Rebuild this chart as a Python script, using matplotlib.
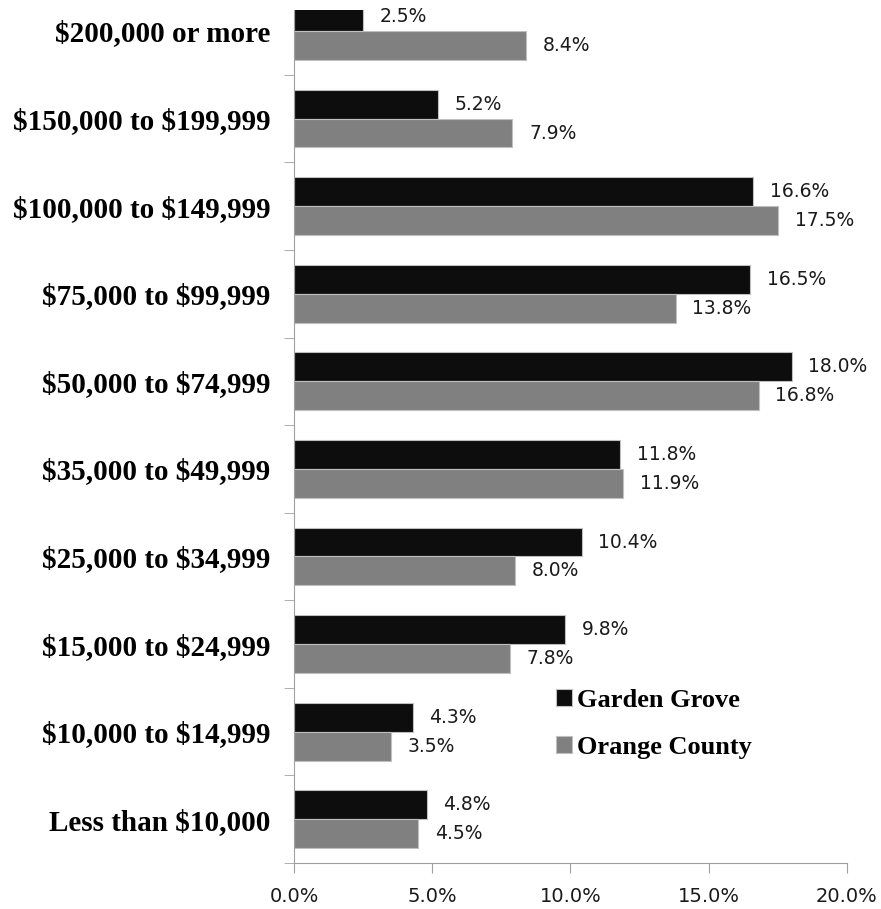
import numpy as np
import matplotlib.pyplot as plt
from matplotlib.ticker import FixedLocator, NullFormatter

plt.rcParams['text.parse_math'] = False

# income brackets, bottom to top
categories = ['Less than $10,000', '$10,000 to $14,999', '$15,000 to $24,999',
              '$25,000 to $34,999', '$35,000 to $49,999', '$50,000 to $74,999',
              '$75,000 to $99,999', '$100,000 to $149,999', '$150,000 to $199,999',
              '$200,000 or more']
garden_grove = [4.8, 4.3, 9.8, 10.4, 11.8, 18.0, 16.5, 16.6, 5.2, 2.5]
orange_county = [4.5, 3.5, 7.8, 8.0, 11.9, 16.8, 13.8, 17.5, 7.9, 8.4]
xticks = [0, 5, 10, 15, 20]

fig = plt.figure(figsize=(8.81, 9.09), dpi=100)
ax = fig.add_axes([0.3337, 0.0506, 0.6277, 0.9384])

y = np.arange(len(categories))
h = 0.33
ax.barh(y + h / 2, garden_grove, height=h, color='#0d0d0d', edgecolor='#bfbfbf',
        linewidth=0.8, label='Garden Grove')
ax.barh(y - h / 2, orange_county, height=h, color='#808080', edgecolor='#bfbfbf',
        linewidth=0.8, label='Orange County')

for yi, v in zip(y, garden_grove):
    ax.annotate(f'{v:.1f}%', (v, yi + h / 2), xytext=(12, 0), textcoords='offset points',
                va='center', ha='left', fontsize=13.5, family='DejaVu Sans', color='#1a1a1a')
for yi, v in zip(y, orange_county):
    ax.annotate(f'{v:.1f}%', (v, yi - h / 2), xytext=(12, 0), textcoords='offset points',
                va='center', ha='left', fontsize=13.5, family='DejaVu Sans', color='#1a1a1a')

ax.set_xlim(0, 20)
ax.set_ylim(-0.5, 9.24)
ax.set_xticks(xticks)
ax.set_xticklabels([f'{t:.1f}%' for t in xticks], fontsize=14, color='#1a1a1a')
ax.set_yticks(y)
ax.set_yticklabels(categories, fontsize=21, fontweight='bold', family='Liberation Serif')
ax.yaxis.set_minor_locator(FixedLocator(np.arange(-0.5, 9.5, 1.0)))
ax.yaxis.set_minor_formatter(NullFormatter())
ax.tick_params(axis='y', which='major', length=0, pad=17)
ax.tick_params(axis='y', which='minor', length=7, color='#a0a0a0', direction='out')
ax.tick_params(axis='x', length=7, color='#a0a0a0', direction='out', pad=10)
for s in ['top', 'right']:
    ax.spines[s].set_visible(False)
for s in ['left', 'bottom']:
    ax.spines[s].set_color('#a0a0a0')

leg = ax.legend(loc='upper left', bbox_to_anchor=(0.431, 0.232), frameon=False,
                prop={'family': 'Liberation Serif', 'weight': 'bold', 'size': 19},
                handlelength=0.6, handleheight=0.6, handletextpad=0.2, labelspacing=0.9)

fig.savefig('out.png', dpi=100)
